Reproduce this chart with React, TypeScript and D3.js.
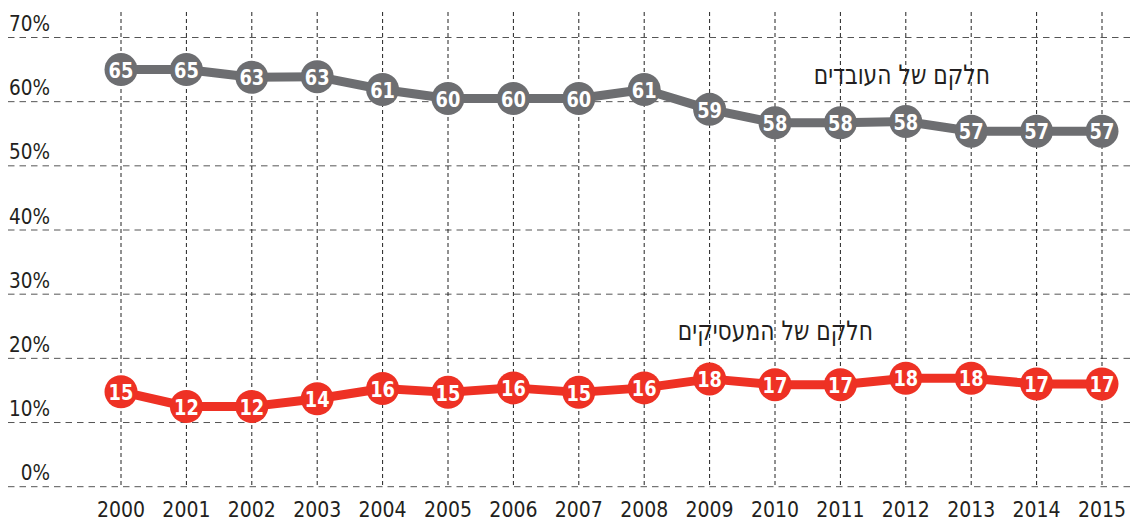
import React, { useEffect, useRef } from 'react';
import * as d3 from 'd3';

// --- Data ---
const years = [2000, 2001, 2002, 2003, 2004, 2005, 2006, 2007, 2008, 2009, 2010, 2011, 2012, 2013, 2014, 2015];
// plotted position of each marker (the printed label is rounded differently in the source)
const workersValues = [65.0, 65.0, 63.8, 63.9, 61.9, 60.5, 60.5, 60.5, 61.9, 58.8, 56.7, 56.7, 56.9, 55.4, 55.4, 55.4];
const workersLabels = [65, 65, 63, 63, 61, 60, 60, 60, 61, 59, 58, 58, 58, 57, 57, 57];
const employersValues = [14.8, 12.5, 12.5, 13.7, 15.3, 14.7, 15.4, 14.7, 15.4, 16.8, 15.9, 15.9, 16.9, 16.9, 16.0, 16.0];
const employersLabels = [15, 12, 12, 14, 16, 15, 16, 15, 16, 18, 17, 17, 18, 18, 17, 17];
const yTicks = [0, 10, 20, 30, 40, 50, 60, 70];
const workersTitle = 'חלקם של העובדים';
const employersTitle = 'חלקם של המעסיקים';

const WIDTH = 1135;
const HEIGHT = 522;
const FONT = '"DejaVu Sans Condensed", "DejaVu Sans", sans-serif';

function ShareChart() {
  const svgRef = useRef(null);

  useEffect(() => {
    const svg = d3.select(svgRef.current);
    svg.selectAll('*').remove();

    const x = d3.scaleLinear().domain([2000, 2015]).range([121, 1102]);
    const y = d3.scaleLinear().domain([0, 70]).range([486.7, 37.5]);

    // --- grid ---
    const grid = svg.append('g');
    grid.selectAll('line.h')
      .data(yTicks)
      .join('line')
      .attr('class', 'h')
      .attr('x1', 8).attr('x2', WIDTH)
      .attr('y1', d => y(d)).attr('y2', d => y(d))
      .attr('stroke', '#555')
      .attr('stroke-width', 1)
      .attr('stroke-dasharray', '6.5 5');

    grid.selectAll('line.v')
      .data(years)
      .join('line')
      .attr('class', 'v')
      .attr('x1', d => x(d)).attr('x2', d => x(d))
      .attr('y1', 12).attr('y2', y(0))
      .attr('stroke', '#222')
      .attr('stroke-width', 1)
      .attr('stroke-dasharray', '4 3');

    // --- axis labels ---
    svg.append('g')
      .selectAll('text')
      .data(yTicks)
      .join('text')
      .attr('x', 50)
      .attr('y', d => y(d) - 6.5)
      .attr('text-anchor', 'end')
      .attr('font-family', FONT)
      .attr('font-size', 20.5)
      .attr('fill', '#231f20')
      .text(d => `${d}%`);

    svg.append('g')
      .selectAll('text')
      .data(years)
      .join('text')
      .attr('x', d => x(d))
      .attr('y', 517)
      .attr('text-anchor', 'middle')
      .attr('font-family', FONT)
      .attr('font-size', 21)
      .attr('fill', '#231f20')
      .text(d => d);

    // --- series ---
    const drawSeries = (values, labels, color) => {
      const pts = years.map((yr, i) => ({ yr, v: values[i], label: labels[i] }));
      const line = d3.line().x(d => x(d.yr)).y(d => y(d.v));
      const g = svg.append('g');
      g.append('path')
        .datum(pts)
        .attr('d', line)
        .attr('fill', 'none')
        .attr('stroke', color)
        .attr('stroke-width', 9)
        .attr('stroke-linejoin', 'round');
      g.selectAll('circle')
        .data(pts)
        .join('circle')
        .attr('cx', d => x(d.yr))
        .attr('cy', d => y(d.v))
        .attr('r', 16.5)
        .attr('fill', color);
      // labels are drawn slightly narrowed to mimic the condensed print font
      g.selectAll('text')
        .data(pts)
        .join('text')
        .attr('transform', d => `translate(${x(d.yr)},${y(d.v)}) scale(0.9,1)`)
        .attr('dy', '0.37em')
        .attr('text-anchor', 'middle')
        .attr('font-family', FONT)
        .attr('font-size', 22)
        .attr('font-weight', 600)
        .attr('fill', '#fff')
        .text(d => d.label);
    };

    drawSeries(workersValues, workersLabels, '#6d6e71');
    drawSeries(employersValues, employersLabels, '#ee3124');

    // --- series titles (Hebrew, right edge anchored) ---
    svg.append('text')
      .attr('transform', 'translate(990,84) scale(0.9,1)')
      .attr('text-anchor', 'end')
      .attr('font-family', FONT)
      .attr('font-size', 27)
      .attr('fill', '#231f20')
      .text(workersTitle);

    svg.append('text')
      .attr('transform', 'translate(873,340) scale(0.9,1)')
      .attr('text-anchor', 'end')
      .attr('font-family', FONT)
      .attr('font-size', 27)
      .attr('fill', '#231f20')
      .text(employersTitle);
  }, []);

  return <svg ref={svgRef} width={WIDTH} height={HEIGHT} style={{ display: 'block', background: '#fff' }} />;
}

export default function App() {
  return (
    <div style={{ position: 'absolute', left: 0, top: 0 }}>
      <ShareChart />
    </div>
  );
}
